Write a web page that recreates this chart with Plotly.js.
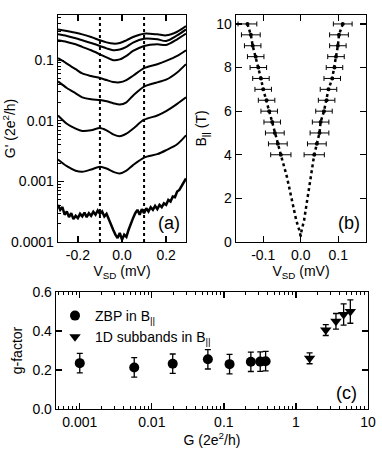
<!DOCTYPE html>
<html>
<head>
<meta charset="utf-8">
<script src="https://cdn.plot.ly/plotly-3.0.1.min.js"></script>
<style>
  html, body { margin: 0; padding: 0; background: #fff; }
  #chart { width: 382px; height: 451px; }
</style>
</head>
<body>
<div id="chart"></div>
<script>
// (a) differential conductance traces vs V_SD
const vsd = [-0.29, -0.25, -0.21, -0.18, -0.14, -0.10, -0.07, -0.04, -0.01, 0.02, 0.05, 0.10, 0.16, 0.20, 0.25, 0.29];
const g1 = [0.322, 0.303, 0.284, 0.267, 0.241, 0.213, 0.197, 0.188, 0.192, 0.213, 0.241, 0.274, 0.267, 0.257, 0.295, 0.366];
const g2 = [0.267, 0.251, 0.230, 0.213, 0.192, 0.172, 0.157, 0.146, 0.150, 0.166, 0.195, 0.226, 0.221, 0.208, 0.257, 0.322];
const g3 = [0.213, 0.200, 0.183, 0.166, 0.146, 0.125, 0.111, 0.100, 0.103, 0.118, 0.142, 0.172, 0.183, 0.178, 0.221, 0.274];
const g4 = [0.108, 0.0881, 0.0711, 0.0604, 0.0547, 0.0507, 0.0470, 0.0436, 0.0431, 0.0470, 0.0553, 0.0740, 0.0859, 0.0975, 0.118, 0.146];
const g5 = [0.0447, 0.0348, 0.0284, 0.0244, 0.0226, 0.0221, 0.0210, 0.0195, 0.0185, 0.0202, 0.0260, 0.0366, 0.0431, 0.0477, 0.0628, 0.0859];
const g6 = [0.0122, 0.00893, 0.0074, 0.00678, 0.00695, 0.00759, 0.00695, 0.00597, 0.00553, 0.00612, 0.0074, 0.0104, 0.0122, 0.0144, 0.0190, 0.0244];
const g7 = [0.00230, 0.00178, 0.00150, 0.00144, 0.00157, 0.00174, 0.00163, 0.00144, 0.00135, 0.00150, 0.00185, 0.00247, 0.00281, 0.00327, 0.00409, 0.00575];

// lowest (noisy) trace on a finer bias grid
const vsdFine = [-0.29, -0.28, -0.27, -0.26, -0.25, -0.24, -0.23, -0.22, -0.21, -0.20,
  -0.19, -0.18, -0.17, -0.16, -0.15, -0.14, -0.13, -0.12, -0.11, -0.10,
  -0.09, -0.08, -0.07, -0.06, -0.05, -0.04, -0.03, -0.02, -0.01, 0.00,
  0.01, 0.02, 0.03, 0.04, 0.05, 0.06, 0.07, 0.08, 0.09, 0.10,
  0.11, 0.12, 0.13, 0.14, 0.15, 0.16, 0.17, 0.18, 0.19, 0.20,
  0.21, 0.22, 0.23, 0.24, 0.25, 0.26, 0.27, 0.28, 0.29];
const g8 = [0.000409, 0.000339, 0.000375, 0.000281, 0.000318, 0.000257, 0.000298, 0.000238, 0.000270, 0.000247,
  0.000291, 0.000264, 0.000306, 0.000257, 0.000298, 0.000270, 0.000314, 0.000281, 0.000330, 0.000291,
  0.000318, 0.000264, 0.000291, 0.000232, 0.000200, 0.000159, 0.000132, 0.000116, 0.000141, 0.000109,
  0.000132, 0.000121, 0.000159, 0.000205, 0.000247, 0.000298, 0.000339, 0.000281, 0.000348, 0.000298,
  0.000360, 0.000318, 0.000375, 0.000339, 0.000394, 0.000348, 0.000409, 0.000375, 0.000435, 0.000409,
  0.000494, 0.000465, 0.000561, 0.000547, 0.000678, 0.000721, 0.000837, 0.000951, 0.00112];

const markerLines = [-0.1, 0.1];

// (b) peak positions vs parallel field
const bField = [10, 9.5, 9, 8.5, 8, 7.5, 7, 6.5, 6, 5.5, 5, 4.5, 4];
const peakLeft = [-0.142, -0.133, -0.128, -0.120, -0.113, -0.106, -0.100, -0.091, -0.084, -0.076, -0.069, -0.061, -0.053];
const peakRight = [0.112, 0.102, 0.099, 0.094, 0.090, 0.084, 0.074, 0.069, 0.062, 0.053, 0.050, 0.043, 0.036];
const peakErr = [0.025, 0.025, 0.022, 0.022, 0.022, 0.022, 0.022, 0.022, 0.022, 0.022, 0.025, 0.025, 0.027];
const tailB = [3, 2, 1, 0.5, 0.25];
const tailLeft = [-0.037, -0.024, -0.012, -0.003, 0];
const tailRight = [0.027, 0.018, 0.009, 0.002, 0];

// (c) g-factor vs conductance
const gZbp = [0.001, 0.0057, 0.0195, 0.060, 0.12, 0.237, 0.32, 0.38];
const gfZbp = [0.235, 0.213, 0.232, 0.255, 0.230, 0.242, 0.243, 0.245];
const gfZbpErr = [0.05, 0.05, 0.05, 0.05, 0.05, 0.05, 0.05, 0.05];
const gSub = [1.55, 2.6, 3.6, 4.6, 5.7];
const gfSub = [0.26, 0.405, 0.45, 0.485, 0.50];
const gfSubErr = [0.028, 0.028, 0.04, 0.055, 0.06];

const W = 382, H = 451;
const px = (a, b) => [a / W, b / W];
const py = (top, bottom) => [1 - bottom / H, 1 - top / H];

function logMinor(fromExp, toExp) {
  const vals = [];
  for (let e = fromExp; e < toExp; e++) {
    for (let k = 2; k <= 9; k++) vals.push(k * Math.pow(10, e));
  }
  return vals;
}

const font = { family: 'Liberation Sans, Arial, sans-serif', size: 14, color: '#000' };
const axisBase = {
  showline: true, linecolor: '#000', linewidth: 1.3,
  ticks: 'inside', ticklen: 6, tickwidth: 1.3, tickcolor: '#000',
  showgrid: false, zeroline: false, mirror: 'ticks',
  tickfont: { size: 14 },
};

const lineStyle = { color: '#000', width: 2, shape: 'spline', smoothing: 0.8 };
const traces = [g1, g2, g3, g4, g5, g6, g7].map((g) => ({
  x: vsd, y: g, xaxis: 'x', yaxis: 'y', mode: 'lines', line: lineStyle,
  showlegend: false, hoverinfo: 'skip',
}));
traces.push({
  x: vsdFine, y: g8, xaxis: 'x', yaxis: 'y', mode: 'lines',
  line: { color: '#000', width: 2.5 }, showlegend: false,
});

[[peakLeft, tailLeft], [peakRight, tailRight]].forEach(([peaks, tail]) => {
  traces.push({
    x: peaks.concat(tail), y: bField.concat(tailB), xaxis: 'x2', yaxis: 'y2',
    mode: 'lines', line: { color: '#000', width: 2.5, dash: 'dot' }, showlegend: false,
  });
  traces.push({
    x: peaks, y: bField, xaxis: 'x2', yaxis: 'y2', mode: 'markers',
    marker: { color: '#000', size: 4 },
    error_x: { type: 'data', array: peakErr, color: '#000', thickness: 1, width: 2.5 },
    showlegend: false,
  });
});

traces.push({
  x: gZbp, y: gfZbp, xaxis: 'x3', yaxis: 'y3', mode: 'markers', name: 'ZBP in B<sub>||</sub>',
  marker: { color: '#000', size: 10, symbol: 'circle' },
  error_y: { type: 'data', array: gfZbpErr, color: '#000', thickness: 1.3, width: 3 },
});
traces.push({
  x: gSub, y: gfSub, xaxis: 'x3', yaxis: 'y3', mode: 'markers', name: '1D subbands in B<sub>||</sub>',
  marker: { color: '#000', size: 10, symbol: 'triangle-down' },
  error_y: { type: 'data', array: gfSubErr, color: '#000', thickness: 1.3, width: 3 },
});

const layout = {
  width: W, height: H,
  margin: { l: 0, r: 0, t: 0, b: 0 },
  paper_bgcolor: '#fff', plot_bgcolor: '#fff',
  font,
  showlegend: true,
  legend: {
    x: 55 / W, y: 1 - 300 / H, xanchor: 'left', yanchor: 'top',
    bgcolor: 'rgba(0,0,0,0)', font: { size: 14 }, tracegroupgap: 0, itemwidth: 30,
  },
  xaxis: Object.assign({}, axisBase, {
    domain: px(58, 186), anchor: 'y', range: [-0.29, 0.29],
    tickvals: [-0.2, 0, 0.2], ticktext: ['-0.2', '0.0', '0.2'],
    title: { text: 'V<sub>SD</sub> (mV)', font: { size: 14 }, standoff: 4 },
  }),
  yaxis: Object.assign({}, axisBase, {
    domain: py(15, 242), anchor: 'x', type: 'log', range: [-4.001, -0.254],
    tickvals: [1e-4, 1e-3, 1e-2, 1e-1], ticktext: ['0.0001', '0.001', '0.01', '0.1'],
    mirror: true,
    minor: { tickvals: logMinor(-4, 0), ticks: 'inside', ticklen: 3, tickcolor: '#000', tickwidth: 1 },
    title: { text: "G' (2e<sup>2</sup>/h)", font: { size: 14 }, standoff: 3 },
  }),
  xaxis2: Object.assign({}, axisBase, {
    domain: px(236, 366), anchor: 'y2', range: [-0.1725, 0.174],
    tickvals: [-0.1, 0, 0.1], ticktext: ['-0.1', '0.0', '0.1'],
    title: { text: 'V<sub>SD</sub> (mV)', font: { size: 14 }, standoff: 4 },
  }),
  yaxis2: Object.assign({}, axisBase, {
    domain: py(15, 242), anchor: 'x2', range: [-0.001, 10.41],
    tickvals: [0, 2, 4, 6, 8, 10],
    title: { text: 'B<sub>||</sub> (T)', font: { size: 14 }, standoff: 6 },
  }),
  xaxis3: Object.assign({}, axisBase, {
    domain: px(56, 368), anchor: 'y3', type: 'log', range: [-3.33, 1.001],
    tickvals: [0.001, 0.01, 0.1, 1, 10], ticktext: ['0.001', '0.01', '0.1', '1', '10'],
    minor: { tickvals: logMinor(-4, 1), ticks: 'inside', ticklen: 3, tickcolor: '#000', tickwidth: 1 },
    title: { text: 'G (2e<sup>2</sup>/h)', font: { size: 14 }, standoff: 4 },
  }),
  yaxis3: Object.assign({}, axisBase, {
    domain: py(292, 409), anchor: 'x3', range: [-0.0005, 0.6005],
    tickvals: [0, 0.2, 0.4, 0.6], ticktext: ['0.0', '0.2', '0.4', '0.6'],
    title: { text: 'g-factor', font: { size: 14 }, standoff: 6 },
  }),
  shapes: markerLines.map((v) => ({
    type: 'line', xref: 'x', yref: 'y domain', x0: v, x1: v, y0: 0, y1: 1,
    line: { color: '#000', width: 2, dash: 'dot' },
  })),
  annotations: [['x', 'y', '(a)'], ['x2', 'y2', '(b)'], ['x3', 'y3', '(c)']].map(([xa, ya, t]) => ({
    xref: xa + ' domain', yref: ya + ' domain', x: 0.97, y: 0.03,
    xanchor: 'right', yanchor: 'bottom', text: t, showarrow: false, font: { size: 18 },
  })),
};

Plotly.newPlot('chart', traces, layout, { displayModeBar: false, staticPlot: true });
</script>
</body>
</html>
